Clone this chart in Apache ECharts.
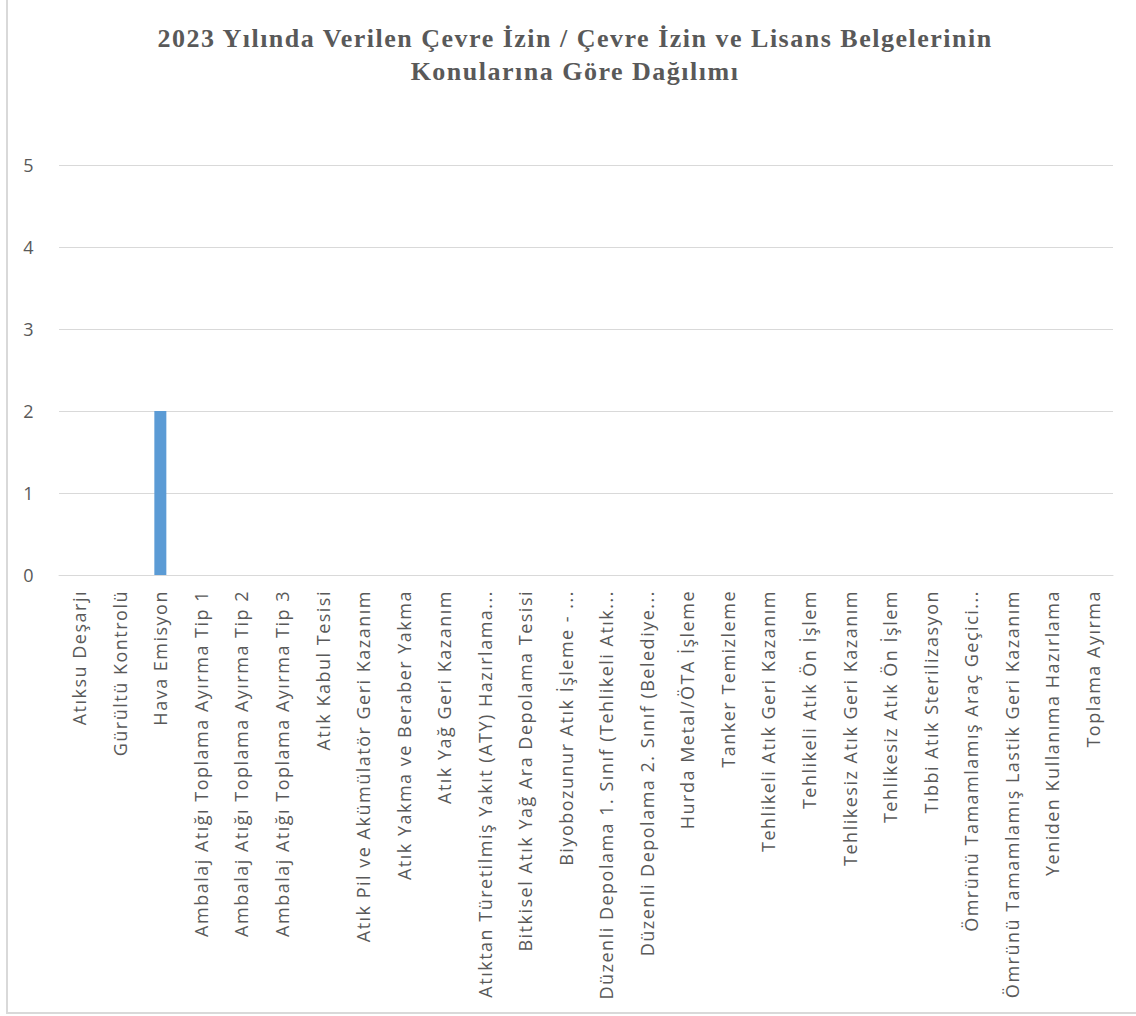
<!DOCTYPE html>
<html>
<head>
<meta charset="utf-8">
<script src="https://cdn.jsdelivr.net/npm/echarts@6/dist/echarts.min.js"></script>
<style>
html,body{margin:0;padding:0;background:#fff;}
#c{width:1136px;height:1016px;}
#c svg text{letter-spacing:1.5px;}
</style>
</head>
<body>
<div id="c"></div>
<script>
const titleText = "2023 Yılında Verilen Çevre İzin / Çevre İzin ve Lisans Belgelerinin\nKonularına Göre Dağılımı";
const categories = [
  "Atıksu Deşarjı",
  "Gürültü Kontrolü",
  "Hava Emisyon",
  "Ambalaj Atığı Toplama Ayırma Tip 1",
  "Ambalaj Atığı Toplama Ayırma Tip 2",
  "Ambalaj Atığı Toplama Ayırma Tip 3",
  "Atık Kabul Tesisi",
  "Atık Pil ve Akümülatör Geri Kazanım",
  "Atık Yakma ve Beraber Yakma",
  "Atık Yağ Geri Kazanım",
  "Atıktan Türetilmiş Yakıt (ATY) Hazırlama...",
  "Bitkisel Atık Yağ Ara Depolama Tesisi",
  "Biyobozunur Atık İşleme - ...",
  "Düzenli Depolama 1. Sınıf (Tehlikeli Atık...",
  "Düzenli Depolama 2. Sınıf (Belediye...",
  "Hurda Metal/ÖTA İşleme",
  "Tanker Temizleme",
  "Tehlikeli Atık Geri Kazanım",
  "Tehlikeli Atık Ön İşlem",
  "Tehlikesiz Atık Geri Kazanım",
  "Tehlikesiz Atık Ön İşlem",
  "Tıbbi Atık Sterilizasyon",
  "Ömrünü Tamamlamış Araç Geçici...",
  "Ömrünü Tamamlamış Lastik Geri Kazanım",
  "Yeniden Kullanıma Hazırlama",
  "Toplama Ayırma"
];
const values = [0, 0, 2, 0, 0, 0, 0, 0, 0, 0, 0, 0, 0, 0, 0, 0, 0, 0, 0, 0, 0, 0, 0, 0, 0, 0];
const yMin = 0, yMax = 5, yStep = 1;

const chart = echarts.init(document.getElementById('c'), null, {renderer: 'svg'});
chart.setOption({
  animation: false,
  backgroundColor: '#ffffff',
  graphic: [
    {type: 'line', shape: {x1: 7, y1: 0, x2: 7, y2: 1013}, style: {stroke: '#d9d9d9', lineWidth: 2}},
    {type: 'line', shape: {x1: 6, y1: 1013, x2: 1136, y2: 1013}, style: {stroke: '#d9d9d9', lineWidth: 2}}
  ],
  title: {
    text: titleText,
    left: 570,
    top: 17,
    textAlign: 'center',
    textStyle: {
      fontFamily: '"Liberation Serif", "Times New Roman", serif',
      fontWeight: 'bold',
      fontSize: 26,
      lineHeight: 33,
      color: '#595959'
    }
  },
  grid: {left: 59, right: 23, top: 165, bottom: 441, containLabel: false},
  xAxis: {
    type: 'category',
    data: categories,
    axisLine: {show: true, lineStyle: {color: '#d9d9d9', width: 1}},
    axisTick: {show: false},
    axisLabel: {
      interval: 0,
      rotate: 90,
      margin: 15,
      fontFamily: '"Open Sans", "Noto Sans", sans-serif',
      fontSize: 18,
      color: '#595959'
    }
  },
  yAxis: {
    type: 'value',
    min: yMin,
    max: yMax,
    interval: yStep,
    axisLine: {show: false},
    axisTick: {show: false},
    splitLine: {lineStyle: {color: '#d9d9d9', width: 1}},
    axisLabel: {
      margin: 24,
      fontFamily: '"Open Sans", "Noto Sans", sans-serif',
      fontSize: 18,
      color: '#595959'
    }
  },
  series: [{
    type: 'bar',
    data: values,
    barWidth: 12,
    itemStyle: {color: '#5b9bd5'}
  }]
});
</script>
</body>
</html>
